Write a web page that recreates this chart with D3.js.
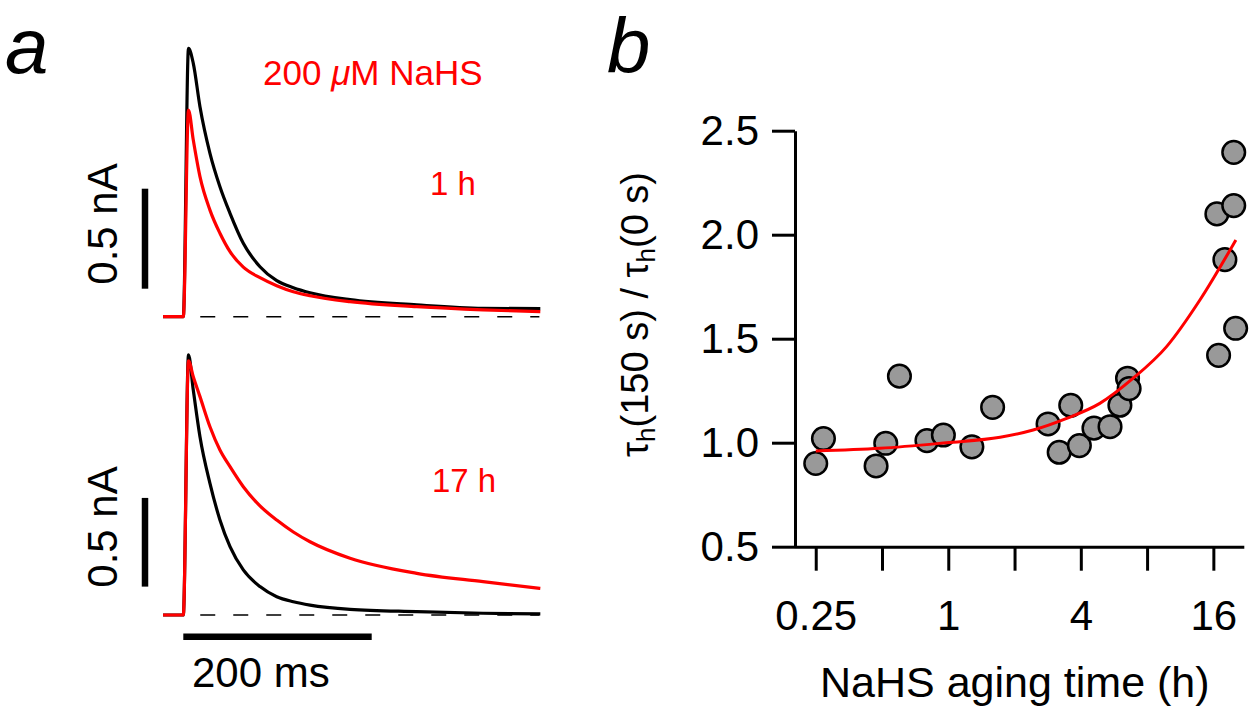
<!DOCTYPE html>
<html>
<head>
<meta charset="utf-8">
<script src="https://cdn.jsdelivr.net/npm/d3@7"></script>
<style>
  body { margin: 0; background: #fff; }
  svg { display: block; font-family: "Liberation Sans", Arial, Helvetica, sans-serif; }
</style>
</head>
<body>
<div id="chart"></div>
<script>
// panel a: current traces, time in ms, current in nA (inward plotted up)
const traceTime = [-21.5, 0, 5.5, 10.6, 17.7, 28.3, 38.9, 49.6, 63.7, 81.4, 99.2, 116.8, 134.5, 177, 247.8, 318.2, 379];
const control1h = [0, 0, 1.342, 1.267, 1.05, 0.817, 0.65, 0.517, 0.367, 0.25, 0.18, 0.145, 0.12, 0.085, 0.059, 0.042, 0.040];
const nahs1h    = [0, 0, 1.033, 0.883, 0.70, 0.533, 0.417, 0.325, 0.248, 0.195, 0.155, 0.125, 0.105, 0.075, 0.05, 0.034, 0.025];
const control17h = [0, 0, 1.466, 1.268, 1.005, 0.742, 0.536, 0.385, 0.254, 0.160, 0.103, 0.075, 0.056, 0.032, 0.019, 0.010, 0.006];
const nahs17h    = [0, 0, 1.433, 1.343, 1.231, 1.061, 0.930, 0.836, 0.723, 0.615, 0.535, 0.468, 0.413, 0.320, 0.235, 0.188, 0.150];

// panel b: tau ratio vs aging time (h)
const agingTime = [0.271, 0.25, 0.47, 0.52, 0.60, 0.80, 0.95, 1.28, 1.59, 2.84, 3.6, 3.19, 3.94, 4.59, 5.43, 6.02, 6.52, 6.63, 16.6, 19.8, 19.8, 18.05, 20.2, 16.9];
const tauRatio  = [1.02, 0.90, 0.888, 0.997, 1.32, 1.01, 1.037, 0.98, 1.17, 1.09, 1.18, 0.954, 0.986, 1.07, 1.077, 1.18, 1.31, 1.26, 2.10, 2.14, 2.396, 1.88, 1.55, 1.42];
const fitTime  = [0.25, 0.49, 0.98, 1.72, 2.43, 3.45, 4.88, 6.92, 9.81, 13.9, 20.25];
const fitRatio = [0.960, 0.973, 1.0, 1.026, 1.061, 1.117, 1.189, 1.31, 1.462, 1.686, 1.975];
const timeTicks = [0.25, 0.5, 1, 2, 4, 8, 16];
const timeLabels = ["0.25", "", "1", "", "4", "", "16"];
const ratioTicks = [0.5, 1.0, 1.5, 2.0, 2.5];

const RED = "#ff0000";
const W = 1260, H = 708;

const svg = d3.select("#chart").append("svg")
  .attr("width", W).attr("height", H);
svg.append("rect").attr("width", W).attr("height", H).attr("fill", "#fff");

// ---------- panel a ----------
const xA = d3.scaleLinear().domain([0, 200]).range([183.3, 371.7]);
const yTop = d3.scaleLinear().domain([0, 0.5]).range([316.7, 216.7]);
const yBot = d3.scaleLinear().domain([0, 0.5]).range([615, 526.3]);

function drawTrace(values, yScale, color) {
  svg.append("path")
    .datum(values)
    .attr("fill", "none")
    .attr("stroke", color)
    .attr("stroke-width", 3.2)
    .attr("stroke-linejoin", "round")
    .attr("d", d3.line()
      .x((d, i) => xA(traceTime[i]))
      .y(d => yScale(d))
      .curve(d3.curveMonotoneX));
}

// dashed zero lines
[yTop, yBot].forEach(ys => {
  svg.append("line")
    .attr("x1", xA(18)).attr("x2", xA(378))
    .attr("y1", ys(0)).attr("y2", ys(0))
    .attr("stroke", "#000").attr("stroke-width", 1.6)
    .attr("stroke-dasharray", "15,18");
});

drawTrace(control1h, yTop, "#000");
drawTrace(nahs1h, yTop, RED);
drawTrace(control17h, yBot, "#000");
drawTrace(nahs17h, yBot, RED);

// scale bars
svg.append("line")
  .attr("x1", 145).attr("x2", 145)
  .attr("y1", yTop(0.14)).attr("y2", yTop(0.64))
  .attr("stroke", "#000").attr("stroke-width", 6.5);
svg.append("line")
  .attr("x1", 145).attr("x2", 145)
  .attr("y1", yBot(0.16)).attr("y2", yBot(0.66))
  .attr("stroke", "#000").attr("stroke-width", 6.5);
svg.append("line")
  .attr("x1", xA(0)).attr("x2", xA(200))
  .attr("y1", 636.7).attr("y2", 636.7)
  .attr("stroke", "#000").attr("stroke-width", 6.5);

svg.append("text")
  .attr("transform", "translate(117,224) rotate(-90)")
  .attr("text-anchor", "middle")
  .attr("font-size", 42)
  .text("0.5 nA");
svg.append("text")
  .attr("transform", "translate(117,527) rotate(-90)")
  .attr("text-anchor", "middle")
  .attr("font-size", 42)
  .text("0.5 nA");
svg.append("text")
  .attr("x", 192).attr("y", 687)
  .attr("font-size", 42)
  .text("200 ms");

const conc = svg.append("text")
  .attr("x", 263).attr("y", 85)
  .attr("font-size", 35)
  .attr("fill", RED);
conc.append("tspan").text("200 ");
conc.append("tspan").attr("font-style", "italic").text("\u03bc");
conc.append("tspan").text("M NaHS");

svg.append("text").attr("x", 430).attr("y", 195)
  .attr("font-size", 33).attr("fill", RED).text("1 h");
svg.append("text").attr("x", 432).attr("y", 492)
  .attr("font-size", 33).attr("fill", RED).text("17 h");

// panel letters
svg.append("text").attr("x", 5).attr("y", 73)
  .attr("font-size", 78).attr("font-style", "italic").text("a");
svg.append("text").attr("x", 607).attr("y", 73)
  .attr("font-size", 78).attr("font-style", "italic").text("b");

// ---------- panel b ----------
const xB = d3.scaleLog().base(2).domain([0.2, 22]).range([794.4, 1243.8]);
const yB = d3.scaleLinear().domain([0.5, 2.5]).range([546.7, 130.7]);

const gx = svg.append("g")
  .attr("transform", `translate(0, ${yB(0.5)})`)
  .call(d3.axisBottom(xB)
    .tickValues(timeTicks)
    .tickFormat((d, i) => timeLabels[i])
    .tickSize(24)
    .tickSizeOuter(0)
    .tickPadding(29));

const gy = svg.append("g")
  .attr("transform", `translate(795, 0)`)
  .call(d3.axisLeft(yB)
    .tickValues(ratioTicks)
    .tickFormat(d3.format(".1f"))
    .tickSize(23)
    .tickSizeOuter(0)
    .tickPadding(13));

[gx, gy].forEach(g => {
  g.select(".domain").attr("stroke-width", 3).attr("stroke", "#000");
  g.selectAll(".tick line").attr("stroke-width", 3).attr("stroke", "#000");
  g.selectAll(".tick text")
    .attr("font-size", 42)
    .attr("font-family", "'Liberation Sans', Arial, Helvetica, sans-serif")
    .attr("fill", "#000");
});

svg.selectAll(".pt")
  .data(agingTime)
  .enter()
  .append("circle")
  .attr("class", "pt")
  .attr("cx", d => xB(d))
  .attr("cy", (d, i) => yB(tauRatio[i]))
  .attr("r", 11.3)
  .attr("fill", "#999999")
  .attr("stroke", "#000")
  .attr("stroke-width", 2.5);

svg.append("path")
  .datum(fitTime)
  .attr("fill", "none")
  .attr("stroke", RED)
  .attr("stroke-width", 3)
  .attr("d", d3.line()
    .x(d => xB(d))
    .y((d, i) => yB(fitRatio[i]))
    .curve(d3.curveMonotoneX));

// axis titles
svg.append("text")
  .attr("x", 820).attr("y", 697)
  .attr("font-size", 43)
  .text("NaHS aging time (h)");

const yl = svg.append("text")
  .attr("transform", "translate(648,172) rotate(-90)")
  .attr("text-anchor", "end")
  .attr("font-size", 38);
yl.append("tspan").text("\u03c4");
yl.append("tspan").attr("font-size", 26).attr("dy", 7).text("h");
yl.append("tspan").attr("dy", -7).text("(150 s) / \u03c4");
yl.append("tspan").attr("font-size", 26).attr("dy", 7).text("h");
yl.append("tspan").attr("dy", -7).text("(0 s)");
</script>
</body>
</html>
